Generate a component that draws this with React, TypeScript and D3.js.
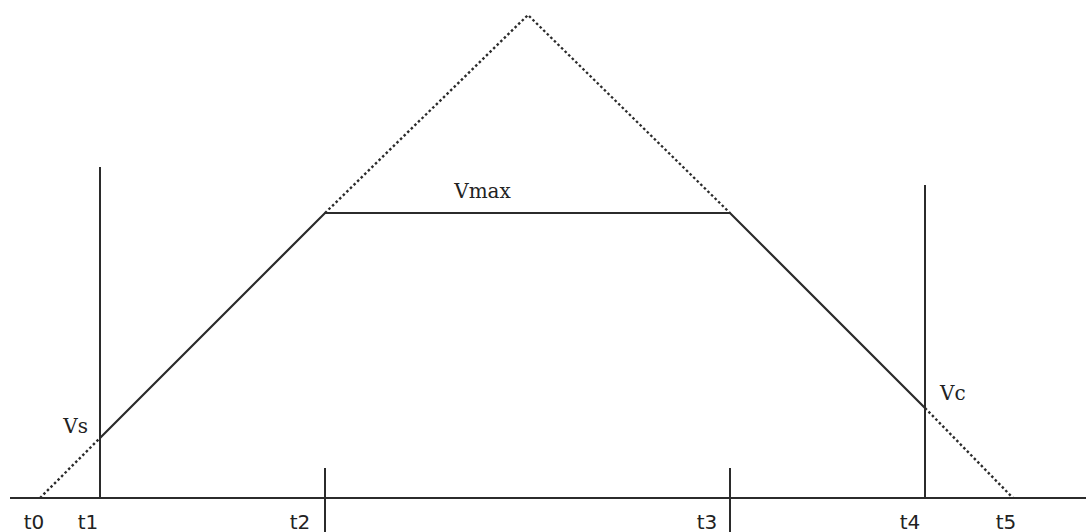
import React from "react";
import * as d3 from "d3";

// time instants (arbitrary units)
const timeLabels = ["t0", "t1", "t2", "t3", "t4", "t5"];
const timeValues = [0, 60, 285, 690, 885, 973];
const tPeak = 488;

// velocities (arbitrary units)
const vS = 60;
const vMax = 285;
const vC = 90;
const vPeak = 483;
const vT1Top = 331;
const vT4Top = 313;
const tickUp = 30;
const tickDown = -34;

const W = 1086;
const H = 532;

export default function App() {
  const x = d3.scaleLinear().domain([-30, 1046]).range([10, 1086]);
  const y = d3.scaleLinear().domain([0, 498]).range([498, 0]);
  const line = d3
    .line<[number, number]>()
    .x((d) => x(d[0]))
    .y((d) => y(d[1]));

  const [t0, t1, t2, t3, t4, t5] = timeValues;
  const solid: [number, number][] = [
    [t1, vS],
    [t2, vMax],
    [t3, vMax],
    [t4, vC],
  ];
  const dotted: [number, number][][] = [
    [
      [t0, 0],
      [t1, vS],
    ],
    [
      [t2, vMax],
      [tPeak, vPeak],
      [t3, vMax],
    ],
    [
      [t4, vC],
      [t5, 0],
    ],
  ];
  const stroke = "#2b2b2b";
  const labelOffsets = [-6, -12, -25, -23, -15, -7];
  const serif = "'DejaVu Serif', 'Liberation Serif', serif";
  const sans = "'DejaVu Sans', Verdana, sans-serif";

  return (
    <svg
      width={W}
      height={H}
      style={{ position: "absolute", left: 0, top: 0, background: "#fff" }}
    >
      {/* axis */}
      <line x1={x(-30)} x2={x(1046)} y1={y(0)} y2={y(0)} stroke={stroke} strokeWidth={2} />
      {/* verticals */}
      <line x1={x(t1)} x2={x(t1)} y1={y(vT1Top)} y2={y(0)} stroke={stroke} strokeWidth={2} />
      <line x1={x(t4)} x2={x(t4)} y1={y(vT4Top)} y2={y(0)} stroke={stroke} strokeWidth={2} />
      <line x1={x(t2)} x2={x(t2)} y1={y(tickUp)} y2={y(tickDown)} stroke={stroke} strokeWidth={2} />
      <line x1={x(t3)} x2={x(t3)} y1={y(tickUp)} y2={y(tickDown)} stroke={stroke} strokeWidth={2} />
      {/* profile */}
      <path d={line(solid) || ""} fill="none" stroke={stroke} strokeWidth={2.2} />
      {dotted.map((seg, i) => (
        <path
          key={i}
          d={line(seg) || ""}
          fill="none"
          stroke={stroke}
          strokeWidth={2.4}
          strokeDasharray="2.5,2.5"
        />
      ))}
      {/* time labels */}
      {timeLabels.map((lab, i) => (
        <text
          key={lab}
          x={x(timeValues[i]) + labelOffsets[i]}
          y={529}
          textAnchor="middle"
          fontFamily={sans}
          fontSize={20}
          fill="#222"
        >
          {lab}
        </text>
      ))}
      <text x={x(t1) - 12} y={y(vS) - 5} textAnchor="end" fontFamily={serif} fontSize={20} fill="#222">
        Vs
      </text>
      <text x={x(t4) + 15} y={y(vC) - 8} textAnchor="start" fontFamily={serif} fontSize={20} fill="#222">
        Vc
      </text>
      <text x={(x(t2) + x(t3)) / 2 - 45} y={y(vMax) - 15} textAnchor="middle" fontFamily={serif} fontSize={20} fill="#222">
        Vmax
      </text>
    </svg>
  );
}
